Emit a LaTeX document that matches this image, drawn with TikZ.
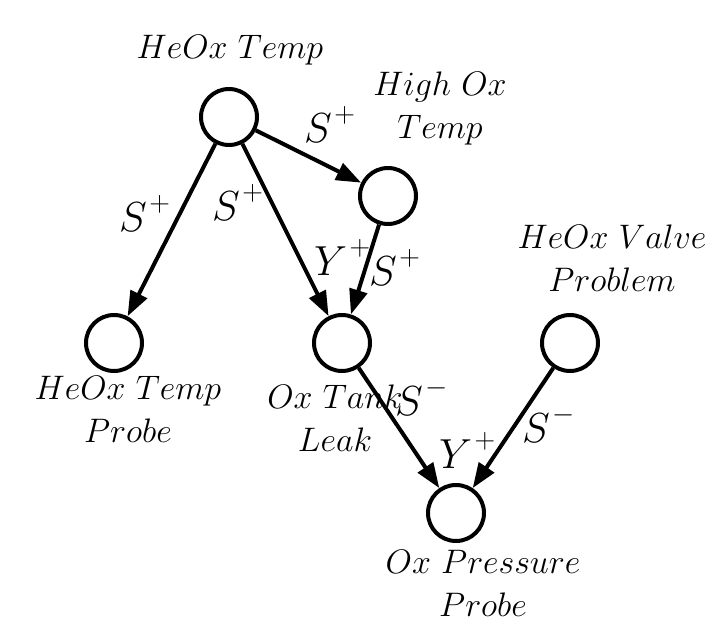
\documentclass[tikz,border=0pt]{standalone}
\usepackage{fix-cm}
\usetikzlibrary{arrows.meta}
\newcommand\edgesign[1]{\hspace{0.06em}\raisebox{0.47em}{\scalebox{0.68}{$#1$}}}
\begin{document}
\begin{tikzpicture}[x=1pt,y=-1pt,
  state/.style={circle,draw,line width=4pt,minimum size=56pt,inner sep=0pt},
  lbl/.style={font=\fontsize{34}{43}\selectfont,align=center,inner sep=0pt},
  elbl/.style={font=\fontsize{42}{46}\selectfont,inner sep=0pt,anchor=base west},
  edge/.style={line width=4pt,-{Triangle[length=25pt,width=18pt]}}]
\useasboundingbox (0,0) rectangle (726,640);
\node[state] (ht) at (229,117) {};
\node[state] (hot) at (388,196) {};
\node[state] (htp) at (114,343) {};
\node[state] (otl) at (342,343) {};
\node[state] (hvp) at (570,343) {};
\node[state] (opp) at (456,513) {};
\node[lbl] (tht) at (230,50) {$HeOx\ Temp$};
\node[lbl] (thot) at (440,108) {$High\ Ox$\\$Temp$};
\node[lbl] (thvp) at (612,258) {$HeOx\ Valve$\\$Problem$};
\node[lbl] (thtp) at (128,409) {$HeOx\ Temp$\\$Probe$};
\node[lbl] (totl) at (335,418) {$Ox\ Tank$\\$Leak$};
\node[lbl] (topp) at (483,583) {$Ox\ Pressure$\\$Probe$};
\draw[edge] (ht) -- (hot);
\draw[edge] (ht) -- (htp);
\draw[edge] (ht) -- (otl);
\draw[edge] (hot) -- (otl);
\draw[edge] (otl) -- (opp);
\draw[edge] (hvp) -- (opp);
\node[elbl] (e1) at (304,142) {$S$\edgesign{+}};
\node[elbl] (e2) at (119,231) {$S$\edgesign{+}};
\node[elbl] (e3) at (212,220) {$S$\edgesign{+}};
\node[elbl] (e4) at (314,275) {$Y$\edgesign{+}};
\node[elbl] (e5) at (369,285) {$S$\edgesign{+}};
\node[elbl] (e6) at (395,415) {$S$\edgesign{-}};
\node[elbl] (e7) at (439,468) {$Y$\edgesign{+}};
\node[elbl] (e8) at (522,442) {$S$\edgesign{-}};
\end{tikzpicture}
\end{document}
